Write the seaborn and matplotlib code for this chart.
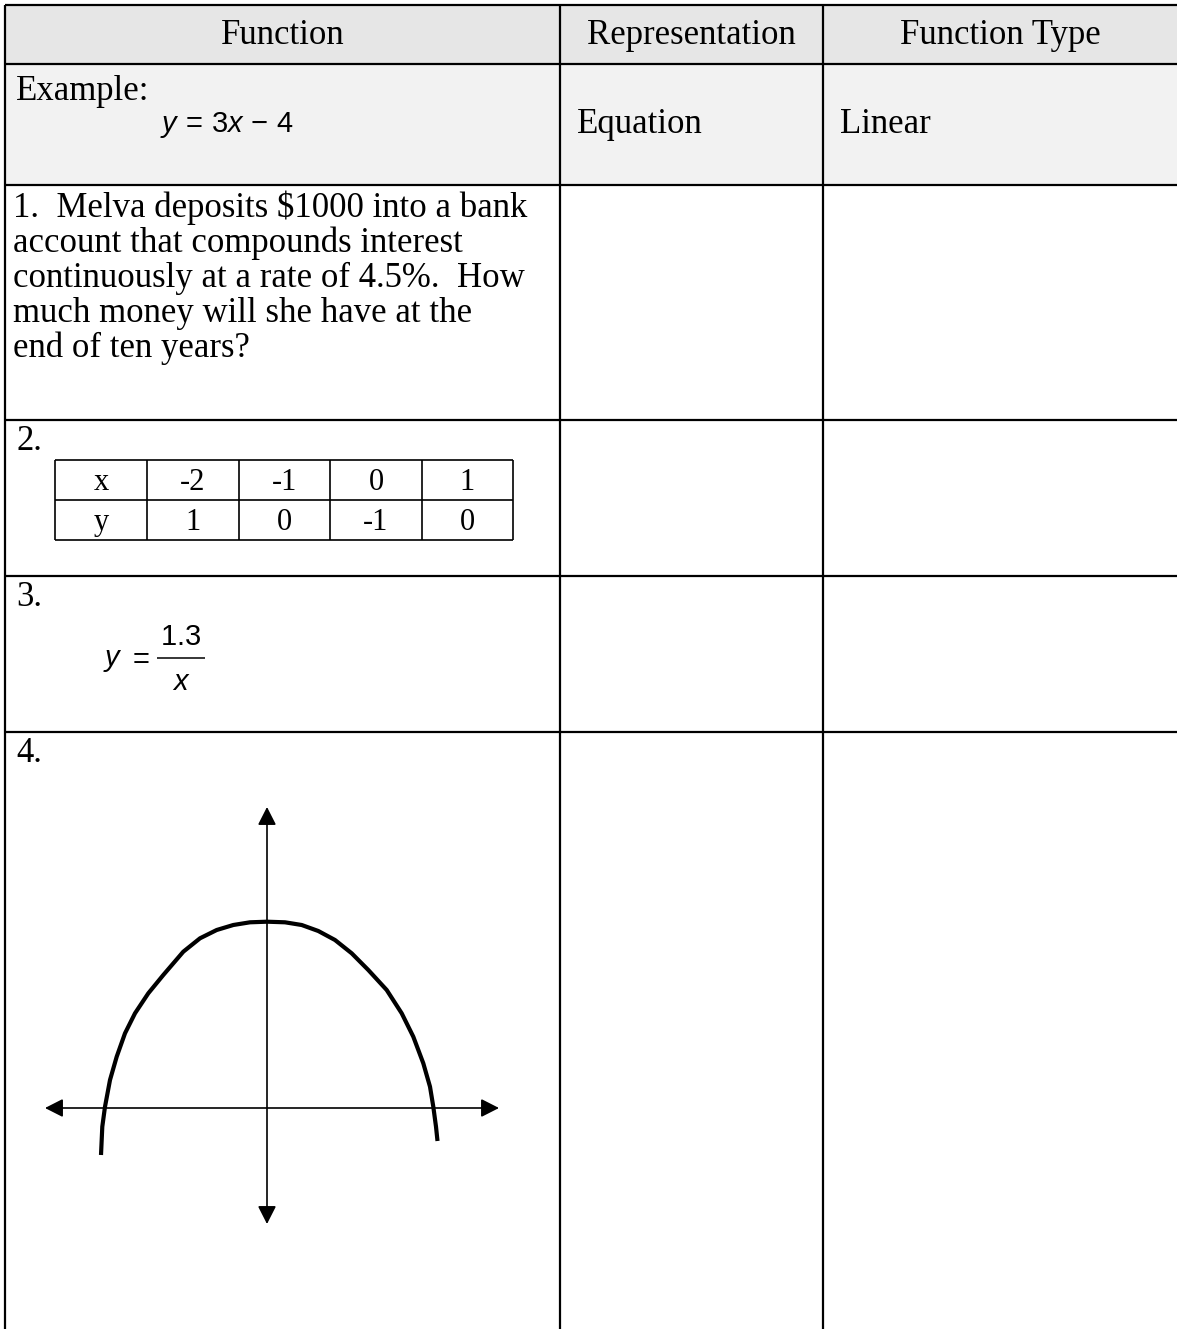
import matplotlib
matplotlib.use("Agg")
from matplotlib import pyplot as plt
from matplotlib.patches import Rectangle
import seaborn as sb
import pandas as pd

# page size in pixels (figure drawn at dpi 100)
W, H = 1177, 1329

headers = ["Function", "Representation", "Function Type"]
example_label = "Example:"
example_eq = r"$y\,=\,3x\,-\,4$"
example_rep = "Equation"
example_type = "Linear"

problem1 = ["1.  Melva deposits \\$1000 into a bank",
            "account that compounds interest",
            "continuously at a rate of 4.5%.  How",
            "much money will she have at the",
            "end of ten years?"]
problem2_x = ["x", "-2", "-1", "0", "1"]
problem2_y = ["y", "1", "0", "-1", "0"]
problem3_num = "1.3"
problem3_den = r"$x$"
numbers = ["2.", "3.", "4."]

# traced curve of problem 4 (graph units, origin where the axes cross)
curve_x = [-16.6, -16.47, -16.2, -15.7, -15.03, -14.2, -13.2, -11.87, -10.37, -8.37,
           -6.7, -5.03, -3.37, -1.7, 0.0, 1.8, 3.47, 5.13, 6.8, 8.47, 10.13,
           11.97, 13.47, 14.63, 15.63, 16.3, 16.63, 16.9, 17.05]
curve_y = [-4.7, -1.87, 0.13, 2.8, 5.13, 7.47, 9.47, 11.47, 13.3, 15.63,
           16.97, 17.8, 18.3, 18.57, 18.63, 18.57, 18.3, 17.7, 16.8, 15.47, 13.8,
           11.8, 9.47, 7.13, 4.47, 2.13, 0.13, -1.87, -3.3]
axis_x = [-22.2, 23.2]
axis_y = [-11.6, 30.1]

col_edges = [5, 560, 823, W]
row_edges = [5, 64, 185, 420, 576, 732, H]

sb.set_theme(style="white")
plt.rcParams["font.family"] = ["Liberation Serif", "DejaVu Serif"]
plt.rcParams["text.color"] = "black"
plt.rcParams["mathtext.fontset"] = "custom"
plt.rcParams["mathtext.rm"] = "Liberation Sans"
plt.rcParams["mathtext.it"] = "Liberation Sans:italic"

fig = plt.figure(figsize=(W / 100, H / 100), dpi=100)
fig.patch.set_facecolor("white")
ax = fig.add_axes([0, 0, 1, 1])
ax.set_xlim(0, W)
ax.set_ylim(H, 0)
ax.axis("off")

# shaded header and example rows
ax.add_patch(Rectangle((col_edges[0], row_edges[0]), W, row_edges[1] - row_edges[0],
                       facecolor="#e6e6e6", edgecolor="none"))
ax.add_patch(Rectangle((col_edges[0], row_edges[1]), W, row_edges[2] - row_edges[1],
                       facecolor="#f2f2f2", edgecolor="none"))

ax.hlines(row_edges[:-1], col_edges[0], W, color="black", lw=1.6)
ax.vlines(col_edges[:-1], row_edges[0], H, color="black", lw=1.6)

FS = 25
centers = [283, 691, 1000]
for c, h in zip(centers, headers):
    ax.text(c, 44, h, ha="center", va="baseline", fontsize=FS)

ax.text(16, 100, example_label, va="baseline", fontsize=FS)
ax.text(160, 132, example_eq, va="baseline", fontsize=21)
ax.text(577, 133, example_rep, va="baseline", fontsize=FS)
ax.text(840, 133, example_type, va="baseline", fontsize=FS)

for i, line in enumerate(problem1):
    ax.text(13, 217 + i * 35, line, va="baseline", fontsize=FS)

for num, top in zip(numbers, row_edges[3:6]):
    ax.text(16, top + 30, num, va="baseline", fontsize=FS)

# small x / y table of problem 2
tx = [55, 147, 239, 330, 422, 513]
ty = [460, 500, 540]
ax.hlines(ty, tx[0], tx[-1], color="black", lw=1.2)
ax.vlines(tx, ty[0], ty[-1], color="black", lw=1.2)
for r, row in enumerate([problem2_x, problem2_y]):
    for c, val in enumerate(row):
        ax.text((tx[c] + tx[c + 1]) / 2, ty[r + 1] - 10, val,
                ha="center", va="baseline", fontsize=22)

# y = 1.3 / x, set as a stacked fraction
ax.text(103, 666, r"$y$", va="baseline", fontsize=21)
ax.text(128, 666, r"$=$", va="baseline", fontsize=21)
ax.text(181, 645, r"$\mathrm{%s}$" % problem3_num, ha="center", va="baseline", fontsize=21)
ax.hlines(658, 157, 205, color="black", lw=1.1)
ax.text(181, 690, problem3_den, ha="center", va="baseline", fontsize=21)

# graph of problem 4, 10 px per unit
gx = fig.add_axes([27 / W, 1 - 1238 / H, 490 / W, 450 / H])
gx.set_xlim(-24, 25)
gx.set_ylim(-13, 32)
gx.axis("off")
gx.patch.set_alpha(0)
arrow = dict(arrowstyle="<|-|>,head_length=0.55,head_width=0.28", mutation_scale=20,
             color="black", lw=1.2, shrinkA=0, shrinkB=0)
gx.annotate("", xy=(axis_x[0], 0), xytext=(axis_x[1], 0), arrowprops=arrow)
gx.annotate("", xy=(0, axis_y[0]), xytext=(0, axis_y[1]), arrowprops=arrow)
curve = pd.DataFrame({"x": curve_x, "y": curve_y})
sb.lineplot(data=curve, x="x", y="y", sort=False, estimator=None, ax=gx,
            color="black", lw=3.0, solid_joinstyle="round", solid_capstyle="butt")
gx.set_xlabel("")
gx.set_ylabel("")

fig.savefig("out.png", dpi=100)
